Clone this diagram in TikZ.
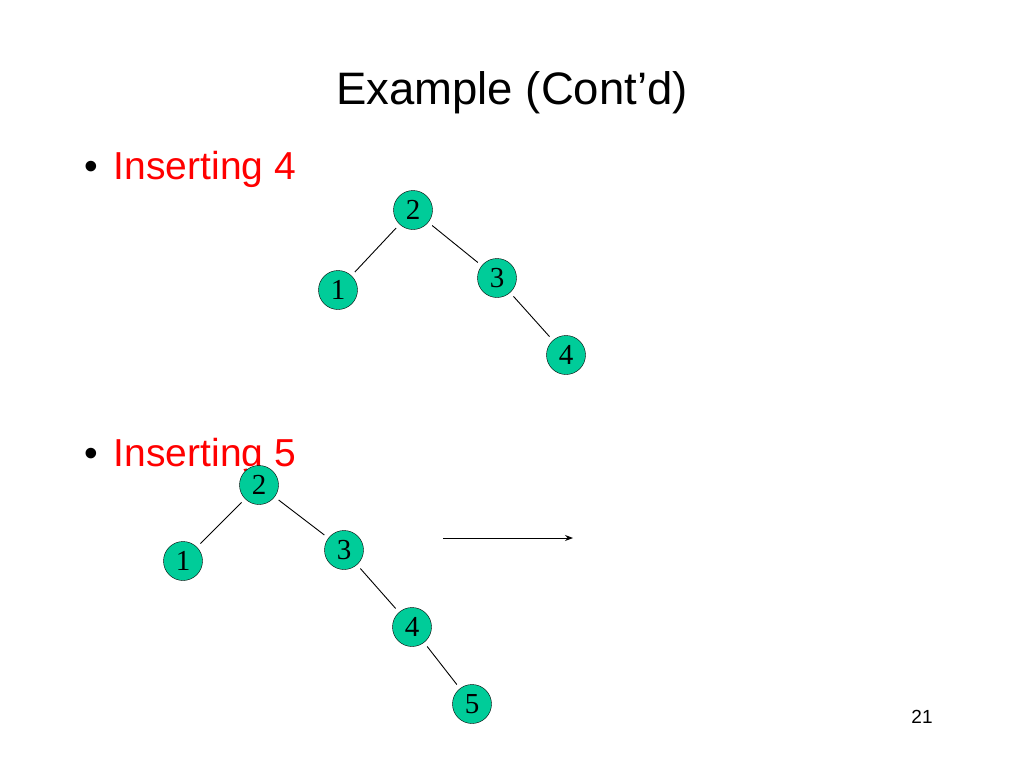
\documentclass[tikz,border=0pt]{standalone}
\usepackage{fontspec}
\usetikzlibrary{arrows.meta}
\setmainfont{Liberation Sans}
\newfontfamily\serifd{Liberation Serif}
\definecolor{nodegreen}{RGB}{0,204,153}
\begin{document}
\begin{tikzpicture}[x=1pt,y=-1pt,
  tn/.style={circle,draw=black,fill=nodegreen,minimum size=39pt,inner sep=0pt,font=\serifd\fontsize{29}{29}\selectfont},
  ed/.style={draw=black,line width=0.9pt,shorten >=5pt,shorten <=5pt},
  bul/.style={anchor=base west,text=red,font=\fontsize{39}{39}\selectfont}]
\useasboundingbox (0,0) rectangle (1024,768);
\node[font=\fontsize{45.5}{45.5}\selectfont,anchor=base] (title) at (512,104) {Example (Cont’d)};
\node[bul,inner sep=0pt] (b1) at (84,179) {\textcolor{black}{•}\hspace{16pt}Inserting 4};
\node[bul,inner sep=0pt] (b2) at (84,466) {\textcolor{black}{•}\hspace{16pt}Inserting 5};
\node[tn] (a2) at (413,210) {2};
\node[tn] (a1) at (338,290) {1};
\node[tn] (a3) at (497,278) {3};
\node[tn] (a4) at (566,355) {4};
\draw[ed] (a2) -- (a1);
\draw[ed] (a2) -- (a3);
\draw[ed] (a3) -- (a4);
\node[tn] (c2) at (259,485) {2};
\node[tn] (c1) at (183,561) {1};
\node[tn] (c3) at (344,550) {3};
\node[tn] (c4) at (412,627) {4};
\node[tn] (c5) at (472,704) {5};
\draw[ed] (c2) -- (c1);
\draw[ed] (c2) -- (c3);
\draw[ed] (c3) -- (c4);
\draw[ed] (c4) -- (c5);
\coordinate (p) at (443,538);
\coordinate (q) at (573,538);
\draw[-{Stealth[length=8pt,width=6pt]},line width=0.9pt] (p) -- (q);
\node[anchor=base,font=\fontsize{19}{19}\selectfont] (pg) at (922,723) {21};
\end{tikzpicture}
\end{document}
